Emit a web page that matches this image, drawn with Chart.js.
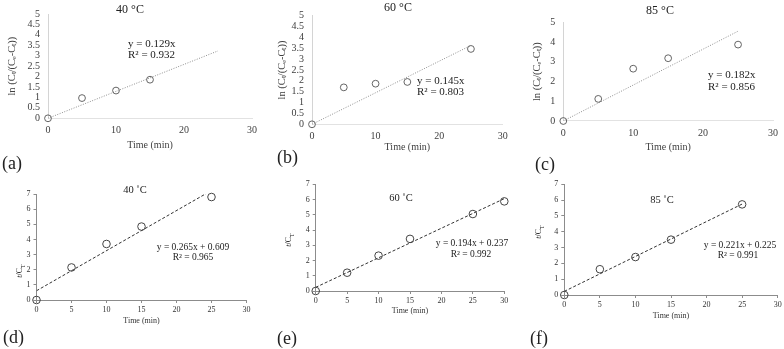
<!DOCTYPE html>
<html lang="en">
<head>
<meta charset="UTF-8">
<title>Kinetic plots</title>
<script src="https://cdn.jsdelivr.net/npm/chart.js"></script>
<style>
  body { margin: 0; background: #fff; }
  .pagina { position: relative; width: 784px; height: 349px; overflow: hidden; font-family: "Liberation Serif", serif; color: #222; }
  .pagina canvas { position: absolute; left: 0; top: 0; }
  .txt { position: absolute; white-space: nowrap; line-height: 1; }
  .centro { transform: translate(-50%, -50%); }
  .esq { transform: translate(0, -50%); }
  .vert { transform: translate(-50%, -50%) rotate(-90deg); }
</style>
</head>
<body>
<div class="pagina">
  <canvas id="grafA" width="784" height="349"></canvas>
  <canvas id="grafB" width="784" height="349"></canvas>
  <canvas id="grafC" width="784" height="349"></canvas>
  <canvas id="grafD" width="784" height="349"></canvas>
  <canvas id="grafE" width="784" height="349"></canvas>
  <canvas id="grafF" width="784" height="349"></canvas>

  <!-- linha de cima -->
  <div class="txt centro" style="left:130px; top:9px; font-size:12px;">40 °C</div>
  <div class="txt esq" style="left:128px; top:43px; font-size:11px;">y = 0.129x</div>
  <div class="txt esq" style="left:128px; top:54px; font-size:11px;">R² = 0.932</div>
  <div class="txt esq" style="left:2px; top:163px; font-size:18px;">(a)</div>

  <div class="txt centro" style="left:398px; top:7px; font-size:12px;">60 °C</div>
  <div class="txt esq" style="left:417px; top:80px; font-size:11px;">y = 0.145x</div>
  <div class="txt esq" style="left:417px; top:91px; font-size:11px;">R² = 0.803</div>
  <div class="txt esq" style="left:277px; top:157px; font-size:18px;">(b)</div>

  <div class="txt centro" style="left:660px; top:10px; font-size:12px;">85 °C</div>
  <div class="txt esq" style="left:708px; top:74px; font-size:11px;">y = 0.182x</div>
  <div class="txt esq" style="left:708px; top:86px; font-size:11px;">R² = 0.856</div>
  <div class="txt esq" style="left:535px; top:164px; font-size:18px;">(c)</div>

  <!-- linha de baixo -->
  <div class="txt centro" style="left:135px; top:190px; font-size:10.5px;">40 ˚C</div>
  <div class="txt centro" style="left:193px; top:248px; font-size:9.5px;">y = 0.265x + 0.609</div>
  <div class="txt centro" style="left:193px; top:258px; font-size:9.5px;">R² = 0.965</div>
  <div class="txt vert" style="left:21px; top:271px; font-size:8px;"><i>t</i>/C<sub style="font-size:6px">T</sub></div>
  <div class="txt esq" style="left:3px; top:337px; font-size:18px;">(d)</div>

  <div class="txt centro" style="left:401px; top:198px; font-size:10.5px;">60 ˚C</div>
  <div class="txt centro" style="left:472px; top:244px; font-size:9.5px;">y = 0.194x + 0.237</div>
  <div class="txt centro" style="left:471px; top:255px; font-size:9.5px;">R² = 0.992</div>
  <div class="txt vert" style="left:290px; top:240px; font-size:8px;"><i>t</i>/C<sub style="font-size:6px">T</sub></div>
  <div class="txt esq" style="left:277px; top:338px; font-size:18px;">(e)</div>

  <div class="txt centro" style="left:662px; top:200px; font-size:10.5px;">85 ˚C</div>
  <div class="txt centro" style="left:740px; top:246px; font-size:9.5px;">y = 0.221x + 0.225</div>
  <div class="txt centro" style="left:738px; top:256px; font-size:9.5px;">R² = 0.991</div>
  <div class="txt vert" style="left:540px; top:232px; font-size:8px;"><i>t</i>/C<sub style="font-size:6px">T</sub></div>
  <div class="txt esq" style="left:530px; top:338px; font-size:18px;">(f)</div>
</div>

<script>
  // Dados
  const tempoA = [0, 5, 10, 15];
  const valoresA = [0, 0.97, 1.33, 1.85];
  const tempoB = [0, 5, 10, 15, 25];
  const valoresB = [0, 1.70, 1.87, 1.95, 3.47];
  const tempoC = [0, 5, 10, 15, 25];
  const valoresC = [0, 1.12, 2.65, 3.18, 3.87];
  const tempoD = [0, 5, 10, 15, 25];
  const valoresD = [0, 2.15, 3.70, 4.85, 6.80];
  const tempoE = [0, 5, 10, 15, 25, 30];
  const valoresE = [0, 1.20, 2.32, 3.42, 5.05, 5.88];
  const tempoF = [0, 5, 10, 15, 25];
  const valoresF = [0, 1.63, 2.40, 3.50, 5.73];

  // Linhas de tendência (pontos inicial e final)
  const tendXA = [0, 25], tendYA = [0, 3.23];
  const tendXB = [0, 25], tendYB = [0, 3.63];
  const tendXC = [0, 25], tendYC = [0, 4.55];
  const tendXD = [0, 25], tendYD = [0.61, 7.23];
  const tendXE = [0, 30], tendYE = [0.24, 6.06];
  const tendXF = [0, 25], tendYF = [0.23, 5.75];

  const tituloYTopo = 'ln (Cₜ/(Cₑ-Cₜ))';
  const tituloX = 'Time (min)';

  const LARG = 784, ALT = 349;
  const fonte = '"Liberation Serif", serif';

  function pares(xs, ys) {
    return xs.map((x, i) => ({ x: x, y: ys[i] }));
  }

  // estilo 'topo' = painéis (a)-(c), 'base' = painéis (d)-(f)
  function criarPainel(id, tempos, valores, tendX, tendY, p) {
    const topo = p.estilo === 'topo';
    const corTxt = topo ? '#404040' : '#333';
    const eixoCor = topo ? '#d4d4d4' : '#8c8c8c';

    const gradeCfg = topo
      ? { display: false, drawTicks: false }
      : { drawOnChartArea: false, drawTicks: true, tickLength: 3, color: eixoCor };

    new Chart(document.getElementById(id), {
      type: 'scatter',
      data: {
        datasets: [
          {
            data: pares(tempos, valores),
            pointStyle: 'circle',
            pointRadius: topo ? 3.4 : 3.8,
            pointBorderWidth: topo ? 0.9 : 1,
            pointBorderColor: topo ? '#555' : '#444',
            pointBackgroundColor: 'rgba(255,255,255,0)',
            clip: false,
            order: 0
          },
          {
            type: 'line',
            data: pares(tendX, tendY),
            borderColor: topo ? '#8f8f8f' : '#333',
            borderWidth: 1,
            borderDash: topo ? [1, 1.5] : [3, 2],
            pointRadius: 0,
            fill: false,
            order: 1
          }
        ]
      },
      options: {
        responsive: false,
        animation: false,
        events: [],
        layout: {
          padding: {
            left: p.L - p.yW,
            right: LARG - p.R,
            top: p.T,
            bottom: ALT - p.B - p.xH
          }
        },
        plugins: { legend: { display: false }, tooltip: { enabled: false } },
        scales: {
          x: {
            type: 'linear',
            min: 0,
            max: 30,
            ticks: {
              stepSize: topo ? 10 : 5,
              autoSkip: false,
              color: corTxt,
              padding: topo ? 6 : 2,
              maxRotation: 0,
              font: { family: fonte, size: topo ? 10 : 8 }
            },
            grid: gradeCfg,
            border: { display: true, color: topo ? '#e2e2e2' : eixoCor, width: 1 },
            title: {
              display: true,
              text: tituloX,
              color: corTxt,
              padding: 0,
              font: { family: fonte, size: topo ? 10 : 8 }
            },
            afterFit(s) { s.height = p.xH; }
          },
          y: {
            type: 'linear',
            min: 0,
            max: p.yMax,
            ticks: {
              stepSize: p.yStep,
              autoSkip: false,
              color: corTxt,
              padding: topo ? 8 : 3,
              font: { family: fonte, size: topo ? 10 : 8 },
              callback: v => String(v)
            },
            grid: gradeCfg,
            border: { display: true, color: eixoCor, width: 1 },
            title: {
              display: topo,
              text: tituloYTopo,
              color: corTxt,
              padding: 0,
              font: { family: fonte, size: 10.5 }
            },
            afterFit(s) { s.width = p.yW; }
          }
        }
      }
    });
  }

  criarPainel('grafA', tempoA, valoresA, tendXA, tendYA,
    { estilo: 'topo', L: 48, R: 252, T: 14, B: 118.3, yW: 42, xH: 33.4, yMax: 5, yStep: 0.5 });
  criarPainel('grafB', tempoB, valoresB, tendXB, tendYB,
    { estilo: 'topo', L: 312, R: 502.7, T: 15.7, B: 124.3, yW: 35.6, xH: 29.4, yMax: 5, yStep: 0.5 });
  criarPainel('grafC', tempoC, valoresC, tendXC, tendYC,
    { estilo: 'topo', L: 563.3, R: 776.7, T: 22.3, B: 121, yW: 31.9, xH: 32.7, yMax: 5, yStep: 1 });
  criarPainel('grafD', tempoD, valoresD, tendXD, tendYD,
    { estilo: 'base', L: 36.5, R: 246.5, T: 194, B: 300, yW: 20, xH: 25.8, yMax: 7, yStep: 1 });
  criarPainel('grafE', tempoE, valoresE, tendXE, tendYE,
    { estilo: 'base', L: 315.7, R: 504.3, T: 184.3, B: 291, yW: 20, xH: 24.8, yMax: 7, yStep: 1 });
  criarPainel('grafF', tempoF, valoresF, tendXF, tendYF,
    { estilo: 'base', L: 564.3, R: 777.7, T: 184.3, B: 295, yW: 20, xH: 25.8, yMax: 7, yStep: 1 });
</script>
</body>
</html>
